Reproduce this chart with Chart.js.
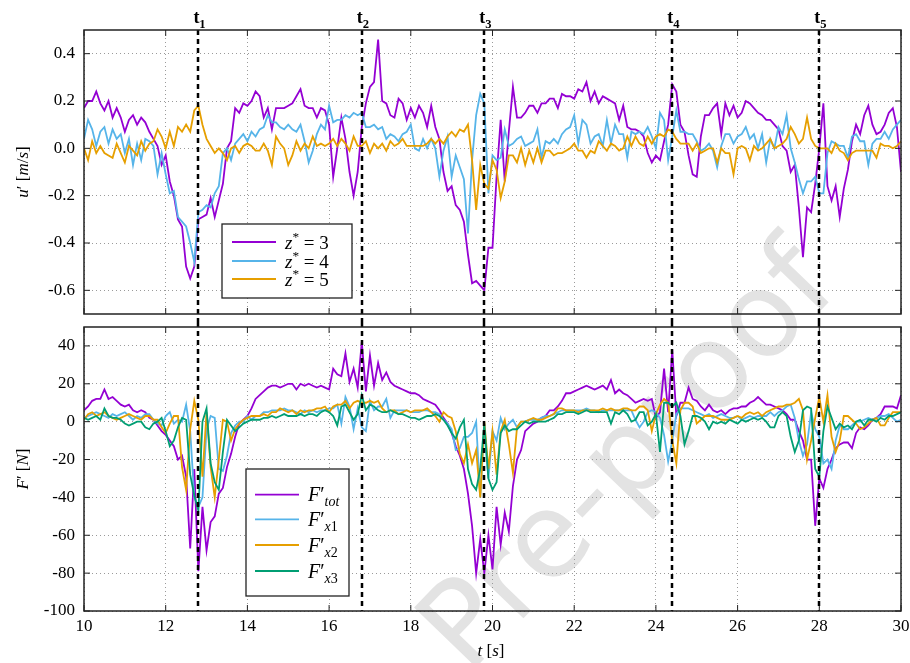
<!DOCTYPE html>
<html>
<head>
<meta charset="utf-8">
<script src="https://cdn.jsdelivr.net/npm/chart.js@4.4.0/dist/chart.umd.min.js"></script>
<style>
  body { margin: 0; background: #fff; width: 910px; height: 663px; overflow: hidden; position: relative; }
  #wm { position: absolute; left: 275px; top: 395px; width: 700px; text-align: center;
        font: 118px 'DejaVu Sans', sans-serif; color: #e3e3e3; transform: rotate(-46deg);
        transform-origin: 50% 50%; white-space: nowrap; line-height: 1; }
  .wrap { position: absolute; left: 0; }
</style>
</head>
<body>
<div id="wm">Pre-proof</div>
<div class="wrap" style="top:0"><canvas id="uChart" width="910" height="322"></canvas></div>
<div class="wrap" style="top:322px"><canvas id="fChart" width="910" height="341"></canvas></div>
<script>
// time axis: 10 s to 30 s, one sample every 0.1 s
const time = Array.from({ length: 201 }, (_, i) => Math.round((10 + i * 0.1) * 10) / 10);

const eventTimes = [12.8, 16.8, 19.8, 24.4, 28.0];
const eventNames = ['1', '2', '3', '4', '5'];

const tTicks = [10, 12, 14, 16, 18, 20, 22, 24, 26, 28, 30];
const uTicks = [-0.6, -0.4, -0.2, 0, 0.2, 0.4];
const fTicks = [-100, -80, -60, -40, -20, 0, 20, 40];

// u' [m/s] at z* = 3, 4, 5
const u3 = [
  0.17, 0.20, 0.20, 0.24, 0.19, 0.16, 0.20, 0.13, 0.17, 0.13,
  0.07, 0.12, 0.14, 0.10, 0.13, 0.11, 0.07, 0.04, 0.01, -0.07,
  -0.03, -0.14, -0.20, -0.30, -0.33, -0.50, -0.55, -0.50, -0.30, -0.29,
  -0.28, -0.21, -0.29, -0.22, -0.15, 0.00, 0.03, 0.17, 0.15, 0.19,
  0.18, 0.20, 0.24, 0.22, 0.13, 0.17, 0.08, 0.17, 0.17, 0.17,
  0.18, 0.19, 0.22, 0.25, 0.18, 0.17, 0.17, 0.13, 0.17, 0.16,
  0.10, -0.12, 0.00, 0.13, 0.04, -0.10, -0.20, -0.10, 0.09, 0.19,
  0.26, 0.28, 0.46, 0.20, 0.19, 0.14, 0.13, 0.21, 0.19, 0.12,
  0.17, 0.13, 0.18, 0.15, 0.09, 0.18, 0.09, 0.04, -0.10, -0.18,
  -0.16, -0.24, -0.26, -0.31, -0.45, -0.57, -0.56, -0.58, -0.60, -0.42,
  -0.42, -0.12, 0.12, -0.14, 0.07, 0.26, 0.13, 0.13, 0.15, 0.18,
  0.18, 0.15, 0.19, 0.19, 0.21, 0.21, 0.17, 0.23, 0.22, 0.22,
  0.21, 0.25, 0.24, 0.28, 0.20, 0.24, 0.19, 0.22, 0.21, 0.20,
  0.19, 0.12, 0.18, 0.09, 0.08, 0.08, 0.07, 0.05, -0.02, -0.06,
  -0.03, -0.05, 0.03, 0.10, 0.27, 0.24, 0.10, 0.07, -0.03, -0.11,
  -0.12, 0.05, 0.14, 0.14, 0.17, 0.19, 0.06, 0.19, 0.14, 0.18,
  0.13, 0.15, 0.20, 0.19, 0.17, 0.15, 0.14, 0.12, 0.12, 0.10,
  0.08, 0.01, -0.01, -0.10, -0.07, -0.25, -0.46, -0.25, -0.27, -0.15,
  0.00, 0.19, -0.16, -0.22, -0.16, -0.29, -0.17, -0.09, 0.03, 0.10,
  0.06, 0.14, 0.18, 0.10, 0.06, 0.07, 0.10, 0.15, 0.17, 0.09,
  -0.10
];
const u4 = [
  0.04, 0.12, 0.08, 0.01, 0.07, 0.09, 0.02, 0.08, 0.04, 0.06,
  -0.02, 0.04, -0.07, 0.02, -0.05, 0.04, 0.03, 0.01, -0.11, -0.02,
  -0.11, -0.19, -0.18, -0.29, -0.31, -0.33, -0.40, -0.48, -0.27, -0.26,
  -0.24, -0.25, -0.19, -0.16, -0.02, 0.00, -0.05, 0.02, 0.04, 0.06,
  0.03, 0.07, 0.05, 0.08, 0.09, 0.14, 0.11, 0.11, 0.09, 0.08,
  0.10, 0.08, 0.07, 0.10, 0.03, -0.06, -0.01, 0.06, 0.10, 0.08,
  0.18, 0.11, 0.12, 0.12, 0.14, 0.13, 0.15, 0.14, 0.15, 0.09,
  0.09, 0.10, 0.08, 0.09, 0.04, 0.06, 0.05, 0.03, 0.06, 0.07,
  0.10, 0.00, -0.01, 0.04, 0.00, 0.04, 0.00, -0.12, -0.01, 0.05,
  -0.12, -0.03, -0.08, -0.13, -0.36, -0.05, 0.14, 0.23, 0.19, -0.19,
  -0.03, -0.05, -0.04, 0.08, 0.01, 0.02, 0.04, 0.05, 0.01, 0.02,
  0.03, 0.08, -0.04, 0.03, 0.02, 0.04, 0.02, 0.06, 0.08, 0.09,
  0.14, 0.02, 0.12, 0.10, 0.02, 0.05, 0.06, 0.01, 0.12, 0.02,
  0.10, 0.06, 0.06, -0.04, 0.07, 0.06, 0.07, 0.06, 0.09, 0.05,
  0.00, 0.15, 0.12, -0.05, 0.05, 0.16, 0.07, 0.07, 0.06, 0.06,
  0.03, -0.01, 0.00, 0.02, -0.01, -0.08, 0.01, 0.06, 0.06, 0.02,
  0.05, 0.06, 0.09, 0.04, 0.06, 0.00, 0.06, -0.06, 0.04, 0.00,
  0.09, 0.06, 0.14, 0.00, -0.06, -0.13, -0.19, -0.14, -0.14, -0.12,
  -0.19, -0.19, -0.02, 0.03, 0.02, 0.01, 0.01, -0.04, 0.05, 0.06,
  0.03, 0.03, -0.07, 0.02, 0.04, 0.04, 0.07, 0.04, 0.08, 0.10,
  0.12
];
const u5 = [
  0.00, -0.05, 0.03, -0.02, 0.01, -0.02, -0.03, -0.04, 0.02, -0.02,
  -0.06, 0.01, -0.01, -0.03, 0.03, -0.01, 0.02, 0.03, 0.08, 0.05,
  0.00, 0.07, 0.01, 0.09, 0.07, 0.10, 0.07, 0.16, 0.18, 0.10,
  0.04, 0.01, -0.02, 0.00, -0.02, -0.05, 0.00, 0.01, -0.02, 0.01,
  0.02, 0.01, -0.01, -0.01, 0.02, -0.01, -0.07, 0.05, 0.02, 0.00,
  -0.07, -0.03, 0.03, -0.01, 0.02, 0.00, 0.05, 0.01, 0.02, 0.01,
  0.02, 0.04, 0.01, 0.04, 0.02, -0.01, 0.05, 0.01, 0.01, 0.03,
  -0.02, 0.02, 0.00, 0.02, -0.01, 0.03, 0.01, 0.02, 0.04, 0.01,
  0.01, 0.01, 0.01, 0.01, 0.02, 0.04, 0.02, 0.04, 0.02, 0.05,
  0.07, 0.05, 0.08, 0.07, 0.10, -0.05, -0.26, -0.07, -0.15, -0.17,
  -0.05, -0.09, -0.21, -0.14, -0.03, -0.03, -0.06, 0.00, -0.07, -0.01,
  -0.06, 0.00, -0.06, -0.01, -0.01, -0.03, -0.02, -0.02, -0.01, 0.00,
  0.02, -0.01, -0.01, -0.04, -0.01, -0.02, 0.03, 0.01, -0.01, 0.02,
  0.01, -0.01, 0.00, 0.05, 0.01, 0.05, 0.02, 0.01, 0.05, 0.02,
  0.05, 0.06, 0.05, 0.08, 0.07, 0.04, 0.02, 0.02, 0.02, -0.01,
  0.02, -0.02, -0.01, 0.00, 0.00, -0.06, 0.00, -0.02, -0.02, -0.11,
  0.00, 0.01, 0.00, -0.05, 0.01, -0.01, 0.00, 0.02, 0.04, 0.00,
  0.01, 0.02, 0.04, 0.09, 0.06, 0.02, 0.04, 0.13, 0.04, 0.01,
  0.00, 0.00, 0.00, -0.02, 0.02, -0.01, -0.02, -0.05, -0.02, -0.01,
  -0.01, -0.01, -0.01, -0.01, -0.04, 0.02, 0.01, 0.01, 0.00, 0.01,
  0.03
];

// F' [N]: total and three rows
const fTot = [
  6, 8, 11, 12, 12, 17, 12, 13, 11, 9,
  8, 9, 6, 5, 6, 5, 2, 1, -2, -5,
  -7, -10, -13, -20, -18, -29, -67, -25, -79, -45,
  -68, -53, -50, -38, -35, -24, -17, -8, -1, 1,
  3, 7, 12, 14, 16, 18, 19, 19, 18, 19,
  20, 20, 17, 20, 19, 20, 19, 18, 19, 18,
  17, 28, 25, 24, 36, 21, 28, 18, 42, 16,
  35, 19, 31, 22, 26, 21, 19, 18, 17, 16,
  15, 15, 14, 12, 11, 10, 9, 6, 2, -1,
  -6, -13, -18, -25, -38, -55, -80, -62, -80, -60,
  -78, -45, -65, -48, -58, -34, -20, -15, -5, -3,
  -1, 0, 2, 3, 6, 6, 8, 11, 15, 15,
  16, 17, 18, 19, 18, 17, 18, 19, 17, 22,
  15, 17, 15, 14, 12, 10, 11, 12, 11, 12,
  2, 5, 28, 5, 38, 3, 10, 10, 18, 12,
  11, 8, 6, 9, 6, 5, 6, 4, 6, 7,
  7, 8, 8, 10, 11, 13, 11, 9, 9, 8,
  7, 6, 4, 1, 1, -5, -10, -20, -20, -55,
  -30, -35, -25, -20, -14, -12, -11, -11, -14, -6,
  -3, -4, -2, 1, 2, 4, 8, 8, 8, 7,
  14
];
const fX1 = [
  2, 3, 4, 5, 4, 3, 2, 4, 3, 4,
  5, 3, 1, 3, 2, 4, 4, 1, -1, -2,
  3, 5, -1, 1, 0, 9, -5, -40, -45, -40,
  -4, 3, 2, -25, -26, -18, -6, -2, 0, 0,
  3, 1, 3, 3, 5, 5, 6, 6, 6, 7,
  6, 6, 5, 4, 6, 5, 6, 5, 6, 6,
  7, 7, 9, -1, 13, 8, -4, 7, -3, -5,
  11, 6, 8, 8, 12, 2, 6, 6, 6, 6,
  5, 5, 5, 6, 6, 5, 5, 4, 1, -1,
  -4, -15, -14, -8, -8, -6, 0, -40, -4, -30,
  -5, -10, 2, -4, -1, 1, -3, 0, 0, 1,
  1, 1, 2, 3, 3, 4, 5, 6, 6, 6,
  6, 6, 6, 7, 6, 6, 5, 6, 6, 6,
  6, 6, 6, 6, 6, 1, -3, 0, 5, 6,
  5, 2, -7, -21, -10, 4, 7, 7, 7, 6,
  5, 4, 3, 4, 2, 3, 4, 3, 2, 2,
  3, 1, 2, 3, 2, 3, 3, 3, 5, 3,
  5, 6, 8, 9, 2, -10, -18, -12, 5, -4,
  -8, -22, -20, -25, -10, -2, -4, -4, -2, 0,
  0, 1, 2, 1, 2, 3, 3, 4, 2, 0,
  1
];
const fX2 = [
  1, 4, 5, 3, 4, 5, 3, 2, 1, 2,
  3, 4, 3, 2, 1, 3, 3, 1, 1, -3,
  -6, -1, 3, 3, -24, -36, -4, 11, 1, -29,
  5, -24, -40, -20, 1, 0, -10, -4, -1, 1,
  2, 3, 3, 3, 4, 3, 5, 5, 7, 6,
  5, 6, 4, 6, 5, 6, 6, 7, 7, 8,
  5, 8, 9, 9, 11, 7, 10, 11, 10, 10,
  11, 10, 11, 7, 5, 6, 6, 4, 5, 6,
  5, 6, 6, 6, 7, 5, 3, 0, 5, 3,
  2, -5, -17, -22, -12, -22, -15, -40, 0, -25,
  -5, -28, -5, 1, -12, -27, -3, 0, 0, 1,
  2, 1, 1, 2, 3, 4, 7, 7, 6, 6,
  6, 5, 6, 6, 6, 6, 6, 7, 6, 7,
  6, 6, 7, 7, 6, 6, 8, 8, 6, -5,
  4, 9, 12, 10, -10, -22, 6, 10, 10, 8,
  -1, 1, 3, 3, 3, 2, 1, 1, 1, 2,
  3, 2, 4, 5, 4, 5, 3, 5, 6, 7,
  8, 8, 9, 9, 10, 12, 6, -20, -10, 2,
  13, 0, 14, -8, -16, -10, 3, 3, 1, -1,
  -4, -3, -1, 1, 2, -2, -2, 2, 5, 5,
  5
];
const fX3 = [
  2, 1, 2, 3, 1, 7, 3, 2, 2, 1,
  -1, -2, -1, 0, 0, -3, -4, -1, 0, 2,
  -5, -13, -10, -3, 2, 1, -28, -39, -47, 0,
  7, -22, -32, -36, -16, 1, -2, -5, -3, -1,
  0, 1, 1, 1, 2, 2, 3, 2, 3, 4,
  3, 3, 3, 4, 3, 4, 4, 3, 5, 6,
  5, 3, -2, 8, 9, 5, 1, 4, 14, 6,
  9, 8, 6, 5, 5, 6, 5, 4, 4, 3,
  2, 2, 1, 2, 3, 3, 4, 3, 1, -2,
  -6, -9, -3, 1, -25, -33, -36, -25, -1, -30,
  -36, -32, -6, -2, -5, -4, -4, -2, 0, -1,
  0, 0, 0, 0, 1, 2, 4, 4, 5, 5,
  5, 4, 5, 6, 5, 5, 5, 5, 5, -1,
  5, 4, 6, 4, 0, 1, 5, 5, -2, 0,
  4, -16, 10, 10, 8, 10, 3, -12, -5, 3,
  3, 2, 0, -4, 0, -1, 0, -1, 1, 0,
  -1, 1, 0, 1, 2, 1, 2, 0, -3, -3,
  3, 5, 3, -8, -16, -10, 6, 8, 7, -25,
  -29, -5, 8, 2, -4, -1, -3, -2, -4, 0,
  1, -2, 1, 1, 0, 2, 1, 3, 3, 4,
  5
];

const PURPLE = '#9400D3', BLUE = '#56B4E9', ORANGE = '#E69F00', GREEN = '#009E73';
const SERIF = "'Liberation Serif', 'DejaVu Serif', serif";

function series(label, values, color, order) {
  return {
    label: label,
    data: values.map((v, i) => ({ x: time[i], y: v })),
    borderColor: color,
    borderWidth: 1.8,
    pointRadius: 0,
    tension: 0,
    order: order
  };
}

function fontOf(size, italic, bold) {
  return (italic ? 'italic ' : '') + (bold ? 'bold ' : '') + size + 'px ' + SERIF;
}

// draws text made of pieces: '' roman, 'i' italic, 'sup', 'sub', 'isub', 'b', 'bsub'
function drawRich(ctx, x, y, parts, size, measureOnly) {
  let cx = x;
  parts.forEach(([txt, kind]) => {
    let s = size, dy = 0;
    const it = kind === 'i' || kind === 'isub';
    const bold = kind === 'b' || kind === 'bsub';
    if (kind === 'sup') { s = size * 0.7; dy = -size * 0.4; }
    if (kind === 'sub' || kind === 'isub' || kind === 'bsub') { s = size * 0.7; dy = size * 0.25; }
    ctx.font = fontOf(s, it, bold);
    if (!measureOnly) ctx.fillText(txt, cx, y + dy);
    cx += ctx.measureText(txt).width;
  });
  return cx - x;
}

function decor(cfg) {
  return {
    id: 'decor',
    afterDraw(chart) {
      const ctx = chart.ctx, a = chart.chartArea;
      const xs = chart.scales.x, ys = chart.scales.y;
      ctx.save();

      // inward tick marks on all four sides
      ctx.strokeStyle = '#222';
      ctx.lineWidth = 1;
      ctx.beginPath();
      xs.ticks.forEach(t => {
        const px = xs.getPixelForValue(t.value);
        ctx.moveTo(px, a.bottom); ctx.lineTo(px, a.bottom - 6);
        ctx.moveTo(px, a.top); ctx.lineTo(px, a.top + 6);
      });
      ys.ticks.forEach(t => {
        const py = ys.getPixelForValue(t.value);
        ctx.moveTo(a.left, py); ctx.lineTo(a.left + 6, py);
        ctx.moveTo(a.right, py); ctx.lineTo(a.right - 6, py);
      });
      ctx.stroke();

      // event lines t1..t5
      ctx.strokeStyle = '#000';
      ctx.lineWidth = 2.5;
      ctx.setLineDash([5, 4]);
      eventTimes.forEach(t => {
        const px = Math.round(xs.getPixelForValue(t));
        ctx.beginPath();
        ctx.moveTo(px, cfg.top ? a.top : 0);
        ctx.lineTo(px, cfg.top ? chart.height : a.bottom);
        ctx.stroke();
      });
      ctx.setLineDash([]);

      // frame
      ctx.strokeStyle = '#222';
      ctx.lineWidth = 1.5;
      ctx.strokeRect(a.left, a.top, a.right - a.left, a.bottom - a.top);

      ctx.fillStyle = '#000';
      ctx.textAlign = 'left';
      ctx.textBaseline = 'alphabetic';

      if (cfg.top) {
        eventTimes.forEach((t, i) => {
          const px = xs.getPixelForValue(t);
          drawRich(ctx, px - 5, 23, [['t', 'b'], [eventNames[i], 'bsub']], 18);
        });
      }

      // legend box
      const L = cfg.legend;
      ctx.fillStyle = '#fff';
      ctx.fillRect(L.box[0], L.box[1], L.box[2], L.box[3]);
      ctx.strokeStyle = '#222';
      ctx.lineWidth = 1.3;
      ctx.strokeRect(L.box[0], L.box[1], L.box[2], L.box[3]);
      L.entries.forEach((e, i) => {
        const y = L.rows[i];
        ctx.strokeStyle = e.color;
        ctx.lineWidth = 1.8;
        ctx.beginPath();
        ctx.moveTo(L.lineX[0], y); ctx.lineTo(L.lineX[1], y);
        ctx.stroke();
        ctx.fillStyle = '#000';
        drawRich(ctx, L.textX, y + 6.5, e.parts, L.size);
      });

      // axis titles
      ctx.fillStyle = '#000';
      const yt = cfg.yTitle;
      const w = drawRich(ctx, 0, 0, yt.parts, 17, true);
      ctx.save();
      ctx.translate(yt.x, yt.y);
      ctx.rotate(-Math.PI / 2);
      drawRich(ctx, -w / 2, 6, yt.parts, 17);
      ctx.restore();
      if (cfg.xTitle) {
        const xt = cfg.xTitle;
        const wx = drawRich(ctx, 0, 0, xt.parts, 17, true);
        drawRich(ctx, xt.x - wx / 2, xt.y + 6, xt.parts, 17);
      }
      ctx.restore();
    }
  };
}

function baseOptions(yMin, yMax, yTicks, yFmt, showX, xHeight, padTop) {
  return {
    responsive: false,
    animation: false,
    events: [],
    layout: { padding: { left: 0, right: 9, top: padTop, bottom: 0 } },
    plugins: { legend: { display: false }, tooltip: { enabled: false } },
    scales: {
      x: {
        type: 'linear', min: 10, max: 30,
        afterBuildTicks: s => { s.ticks = tTicks.map(v => ({ value: v })); },
        afterFit: s => { s.height = xHeight; s.paddingLeft = 0; s.paddingRight = 0; },
        grid: { color: '#9a9a9a', lineWidth: 1, drawTicks: false },
        border: { display: false, dash: [1, 3] },
        ticks: { display: showX, padding: 5, color: '#000', maxRotation: 0,
                 font: { family: SERIF, size: 17 }, callback: v => String(v) }
      },
      y: {
        min: yMin, max: yMax,
        afterBuildTicks: s => { s.ticks = yTicks.map(v => ({ value: v })); },
        afterFit: s => { s.width = 84; s.paddingTop = 0; s.paddingBottom = 0; },
        grid: { color: '#9a9a9a', lineWidth: 1, drawTicks: false },
        border: { display: false, dash: [1, 3] },
        ticks: { padding: 9, color: '#000', font: { family: SERIF, size: 17 }, callback: yFmt }
      }
    }
  };
}

new Chart(document.getElementById('uChart'), {
  type: 'line',
  data: {
    datasets: [
      series('z*=3', u3, PURPLE, 3),
      series('z*=4', u4, BLUE, 2),
      series('z*=5', u5, ORANGE, 1)
    ]
  },
  options: baseOptions(-0.7, 0.5, uTicks, v => v.toFixed(1), false, 8, 30),
  plugins: [decor({
    top: true,
    legend: {
      box: [222, 224, 130, 74], rows: [242, 261, 279], lineX: [232, 276], textX: 285, size: 19,
      entries: [
        { color: PURPLE, parts: [['z', 'i'], ['*', 'sup'], [' = 3', '']] },
        { color: BLUE, parts: [['z', 'i'], ['*', 'sup'], [' = 4', '']] },
        { color: ORANGE, parts: [['z', 'i'], ['*', 'sup'], [' = 5', '']] }
      ]
    },
    yTitle: { x: 22, y: 172, parts: [['u', 'i'], ['\u2032 [', ''], ['m', 'i'], ['/', ''], ['s', 'i'], [']', '']] }
  })]
});

new Chart(document.getElementById('fChart'), {
  type: 'line',
  data: {
    datasets: [
      series('F tot', fTot, PURPLE, 4),
      series('F x1', fX1, BLUE, 3),
      series('F x2', fX2, ORANGE, 2),
      series('F x3', fX3, GREEN, 1)
    ]
  },
  options: baseOptions(-100, 50, fTicks, v => String(v), true, 52, 5),
  plugins: [decor({
    top: false,
    legend: {
      box: [246, 147, 103, 127], rows: [172.7, 197.3, 223, 249], lineX: [255, 299], textX: 308, size: 20,
      entries: [
        { color: PURPLE, parts: [['F', 'i'], ['\u2032', ''], ['tot', 'isub']] },
        { color: BLUE, parts: [['F', 'i'], ['\u2032', ''], ['x', 'isub'], ['1', 'sub']] },
        { color: ORANGE, parts: [['F', 'i'], ['\u2032', ''], ['x', 'isub'], ['2', 'sub']] },
        { color: GREEN, parts: [['F', 'i'], ['\u2032', ''], ['x', 'isub'], ['3', 'sub']] }
      ]
    },
    yTitle: { x: 22, y: 147, parts: [['F', 'i'], ['\u2032 [', ''], ['N', 'i'], [']', '']] },
    xTitle: { x: 491, y: 328, parts: [['t', 'i'], [' [', ''], ['s', 'i'], [']', '']] }
  })]
});
</script>
</body>
</html>
